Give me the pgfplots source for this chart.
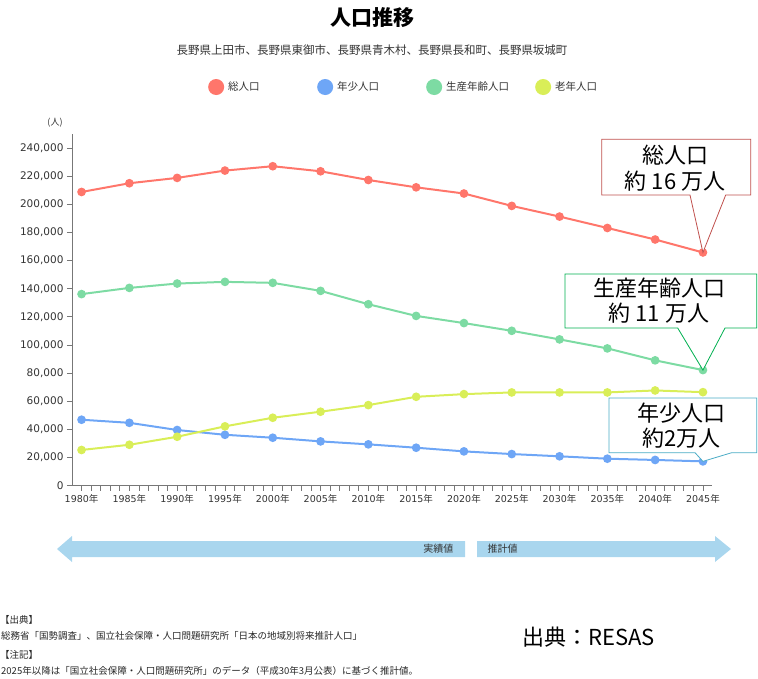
\documentclass[border=0pt]{standalone}
\usepackage{pgfplots}
\pgfplotsset{compat=1.18}
\usepackage{fontspec}
\setmainfont{Noto Sans CJK JP}
\newfontfamily\jp{Noto Sans CJK JP}
\newfontfamily\dv{DejaVu Sans}

\definecolor{ctot}{HTML}{FF766B}
\definecolor{cyoung}{HTML}{6EA6F6}
\definecolor{cprod}{HTML}{7DDBA3}
\definecolor{cold}{HTML}{D9EE58}
\definecolor{carrow}{HTML}{A9D6EE}
\definecolor{bred}{HTML}{C0504D}
\definecolor{bgreen}{HTML}{00B050}
\definecolor{bblue}{HTML}{4BACC6}
\definecolor{axgray}{HTML}{777777}
\definecolor{txt}{HTML}{333333}

\begin{document}
\begin{tikzpicture}
\path[use as bounding box] (0,0) rectangle (758pt,-678pt);

% titles
\node[font=\jp\bfseries\fontsize{21}{24}\selectfont] at (372.5pt,-18pt) {人口推移};
\node[font=\jp\fontsize{11.5}{13}\selectfont, text=txt] at (372pt,-50pt)
  {長野県上田市、長野県東御市、長野県青木村、長野県長和町、長野県坂城町};
\node[font=\jp\fontsize{9}{10}\selectfont, text=txt] at (55pt,-123pt) {(人)};

\begin{axis}[
  at={(72pt,-485.7pt)}, anchor=south west,
  scale only axis, width=640.5pt, height=351.7pt,
  xmin=1979, xmax=2046, ymin=0, ymax=250000,
  clip=false,
  axis x line*=bottom, axis y line*=left,
  axis line style={-, draw=axgray, line width=0.8pt},
  tick style={draw=axgray, line width=0.8pt},
  tick align=outside,
  major tick length=5pt, minor tick length=5pt,
  xtick={1980,1985,...,2045}, minor x tick num=4,
  ytick={0,20000,...,240000},
  scaled y ticks=false,
  xticklabel={\pgfmathprintnumber[assume math mode=true,fixed,precision=0,1000 sep={}]{\tick}{\jp 年}},
  yticklabel={\pgfmathprintnumber[assume math mode=true,fixed,precision=0,1000 sep={,}]{\tick}},
  xticklabel style={font=\dv\fontsize{9.5}{11}\selectfont, text=txt},
  yticklabel style={font=\dv\fontsize{10.5}{12}\selectfont, text=txt},
  every axis plot/.append style={line width=2pt, mark=*, mark size=3.3pt},
  legend columns=4,
  legend image code/.code={\fill[#1] (0pt,0pt) circle (7pt);},
  legend style={at={(axis description cs:0.2123,1.1336)}, anchor=west,
    draw=none, fill=none, inner sep=0pt,
    font=\jp\fontsize{10.5}{12}\selectfont, text=txt,
    nodes={inner sep=0pt},
    /tikz/column sep=0pt,
    /tikz/every odd column/.append style={column sep=4pt}},
]
\addplot[color=ctot, mark options={fill=ctot}] coordinates {
 (1980,208800) (1985,215000) (1990,218800) (1995,224000) (2000,227100)
 (2005,223500) (2010,217300) (2015,212100) (2020,207700) (2025,198900)
 (2030,191300) (2035,183200) (2040,175000) (2045,165800)};
\addlegendentry{\makebox[89pt][l]{総人口}}
\addplot[color=cyoung, mark options={fill=cyoung}] coordinates {
 (1980,46900) (1985,44700) (1990,39600) (1995,36200) (2000,34100)
 (2005,31500) (2010,29400) (2015,27000) (2020,24400) (2025,22500)
 (2030,20900) (2035,19200) (2040,18300) (2045,17300)};
\addlegendentry{\makebox[89pt][l]{年少人口}}
\addplot[color=cprod, mark options={fill=cprod}] coordinates {
 (1980,136200) (1985,140600) (1990,143700) (1995,144900) (2000,144200)
 (2005,138500) (2010,129000) (2015,120700) (2020,115600) (2025,110100)
 (2030,104000) (2035,97600) (2040,89100) (2045,82200)};
\addlegendentry{\makebox[89pt][l]{生産年齢人口}}
\addplot[color=cold, mark options={fill=cold}] coordinates {
 (1980,25400) (1985,29100) (1990,34800) (1995,42200) (2000,48300)
 (2005,52600) (2010,57300) (2015,63200) (2020,65100) (2025,66300)
 (2030,66300) (2035,66300) (2040,67700) (2045,66500)};
\addlegendentry{\makebox[89pt][l]{老年人口}}

\coordinate (p1) at (axis cs:2045,165800);
\coordinate (p2) at (axis cs:2045,82200);
\coordinate (p3) at (axis cs:2045,17300);
\end{axis}

% callouts
\draw[bred, fill=white, line width=0.8pt] (601.7pt,-139.3pt) -- (750.7pt,-139.3pt) -- (750.7pt,-195pt)
  -- (725.7pt,-195pt) -- (p1) -- (690pt,-195pt) -- (601.7pt,-195pt) -- cycle;
\node[font=\jp\fontsize{22}{26}\selectfont, align=center] at (675pt,-168.3pt) {総人口\\約 16 万人};

\draw[bgreen, fill=white, line width=0.8pt] (565pt,-274pt) -- (756.7pt,-274pt) -- (756.7pt,-328pt)
  -- (725pt,-328pt) -- (p2) -- (677.7pt,-328pt) -- (565pt,-328pt) -- cycle;
\node[font=\jp\fontsize{22}{25}\selectfont, align=center] at (659pt,-300.8pt) {生産年齢人口\\約 11 万人};

\draw[bblue, fill=white, line width=0.8pt] (609pt,-398pt) -- (756.7pt,-398pt) -- (756.7pt,-452.7pt)
  -- (731.7pt,-452.7pt) -- (p3) -- (695pt,-452.7pt) -- (609pt,-452.7pt) -- cycle;
\node[font=\jp\fontsize{22}{25.6}\selectfont, align=center] at (681.7pt,-425.5pt) {年少人口\\約2万人};

% actual / projected arrows
\fill[carrow] (57pt,-549pt) -- (72pt,-536pt) -- (72pt,-541pt) -- (465pt,-541pt) -- (465pt,-557pt)
  -- (72pt,-557pt) -- (72pt,-562pt) -- cycle;
\fill[carrow] (477pt,-541pt) -- (715pt,-541pt) -- (715pt,-536pt) -- (731pt,-549pt) -- (715pt,-562pt)
  -- (715pt,-557pt) -- (477pt,-557pt) -- cycle;
\node[anchor=east, font=\jp\fontsize{10}{12}\selectfont, text=txt] at (457pt,-549pt) {実績値};
\node[anchor=west, font=\jp\fontsize{10}{12}\selectfont, text=txt] at (484pt,-549pt) {推計値};

% footer
\node[anchor=west, inner sep=0pt, font=\jp\fontsize{9.5}{11}\selectfont, text=black!85] at (0pt,-620pt) {【出典】};
\node[anchor=west, inner sep=0pt, font=\jp\fontsize{9.5}{11}\selectfont, text=black!85] at (1pt,-636pt)
  {総務省「国勢調査」、国立社会保障・人口問題研究所「日本の地域別将来推計人口」};
\node[anchor=west, inner sep=0pt, font=\jp\fontsize{9.5}{11}\selectfont, text=black!85] at (0pt,-655pt) {【注記】};
\node[anchor=west, inner sep=0pt, font=\jp\fontsize{9.5}{11}\selectfont, text=black!85] at (1pt,-671pt)
  {2025年以降は「国立社会保障・人口問題研究所」のデータ（平成30年3月公表）に基づく推計値。};
\node[anchor=west, inner sep=0pt, font=\jp\fontsize{22}{26}\selectfont] at (522pt,-637pt) {出典：RESAS};
\end{tikzpicture}
\end{document}
